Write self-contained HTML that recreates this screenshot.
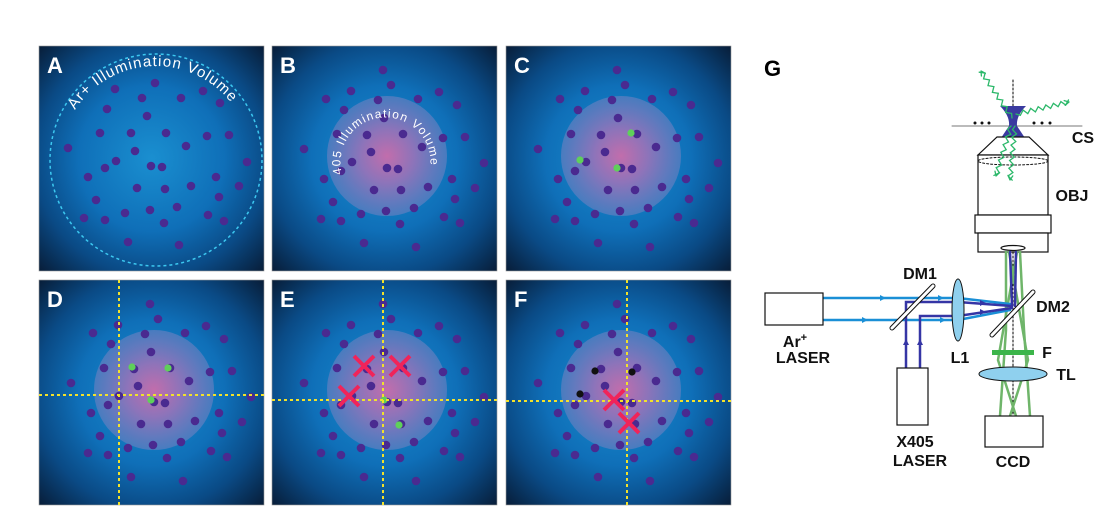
<!DOCTYPE html>
<html><head><meta charset="utf-8"><style>
html,body{margin:0;padding:0;background:#fff;width:1120px;height:520px;overflow:hidden}
svg{display:block}
text{font-family:"Liberation Sans",sans-serif}
</style></head><body>
<svg id="fig" width="1120" height="520" viewBox="0 0 1120 520" xmlns="http://www.w3.org/2000/svg">
<defs>
<radialGradient id="bg" cx="50%" cy="50%" r="72%">
<stop offset="0" stop-color="#1a8fd0"/><stop offset="0.45" stop-color="#0f6fb8"/><stop offset="0.72" stop-color="#0a4a85"/><stop offset="1" stop-color="#071a33"/>
</radialGradient>
<radialGradient id="pink" cx="50%" cy="50%" r="50%">
<stop offset="0" stop-color="#d46aa8"/><stop offset="0.45" stop-color="#9a72b8"/><stop offset="1" stop-color="#5a7ec0" stop-opacity="0.85"/>
</radialGradient>
<path id="arcA" d="M 36 64 A 96 96 0 0 1 196 62"/>
<path id="arcB" d="M 70 128 A 45 45 0 1 1 157 128"/>
</defs>
<g id="panels"></g>
<g id="optics" stroke-linecap="round">
<text x="764" y="76" font-size="22" font-weight="bold">G</text>
<line x1="1013" y1="80" x2="1013" y2="430" stroke="#000" stroke-width="1" stroke-dasharray="2,2"/>
<line x1="952" y1="126" x2="1082" y2="126" stroke="#777" stroke-width="1"/>
<g fill="#111"><circle cx="975" cy="123" r="1.5"/><circle cx="982" cy="123" r="1.5"/><circle cx="989" cy="123" r="1.5"/><circle cx="1034" cy="123" r="1.5"/><circle cx="1042" cy="123" r="1.5"/><circle cx="1050" cy="123" r="1.5"/></g>
<path d="M1000 106 L1026 106 Q1016 116 1017 126 L1025 138 L1001 138 L1009 126 Q1010 116 1000 106 Z" fill="#3a3aa0"/>
<g id="rays" fill="none" stroke="#2cb86a" stroke-width="1.3"></g>
<g fill="#fff" stroke="#111" stroke-width="1.2">
<path d="M997 137 L1029 137 L1048 155 L978 155 Z"/>
<rect x="978" y="155" width="70" height="60"/>
<rect x="975" y="215" width="76" height="18"/>
<rect x="978" y="233" width="70" height="19"/>
<ellipse cx="1013" cy="248" rx="12" ry="2.5"/>
</g>
<ellipse cx="1013" cy="161" rx="35" ry="4" fill="none" stroke="#111" stroke-dasharray="2,2"/>
<g id="rays2" fill="none" stroke="#2cb86a" stroke-width="1.3"></g>
<g stroke="#6fb56a" stroke-width="2.5" fill="none">
<path d="M1006 252 L1006 330 L1000 416"/><path d="M1020 252 L1024 330 L1030 416"/>
<path d="M1009 252 L1028 360 L1010 416"/><path d="M1017 252 L998 360 L1016 416"/>
</g>
<g stroke="#1a8fd6" stroke-width="2.5" fill="none">
<line x1="823" y1="298" x2="958" y2="298"/><line x1="823" y1="320" x2="958" y2="320"/>
<path d="M958 298 L1010 304"/><path d="M958 320 L1010 310"/>
</g>
<g stroke="#3535a5" stroke-width="2.5" fill="none">
<path d="M906 368 L906 302 L958 302 L1012 306"/><path d="M920 368 L920 316 L958 316 L1012 308"/>
<path d="M1012 306 L1010 252"/><path d="M1015 306 L1016 252"/>
</g>
<g fill="#1a8fd6"><path d="M880 295 l6 3 l-6 3z"/><path d="M862 317 l6 3 l-6 3z"/><path d="M938 295 l6 3 l-6 3z"/><path d="M940 317 l6 3 l-6 3z"/></g>
<g fill="#3535a5"><path d="M903 345 l3 -6 l3 6z"/><path d="M917 345 l3 -6 l3 6z"/><path d="M980 300 l6 3 l-6 3z"/><path d="M980 309 l6 3 l-6 3z"/></g>
<line x1="892" y1="328" x2="933" y2="286" stroke="#111" stroke-width="5"/><line x1="892" y1="328" x2="933" y2="286" stroke="#fff" stroke-width="3"/>
<line x1="992" y1="335" x2="1033" y2="292" stroke="#111" stroke-width="5"/><line x1="992" y1="335" x2="1033" y2="292" stroke="#fff" stroke-width="3"/>
<ellipse cx="958" cy="310" rx="6" ry="31" fill="#8fd0ee" stroke="#111" stroke-width="1"/>
<rect x="992" y="350" width="42" height="5" fill="#3cb54a"/>
<ellipse cx="1013" cy="374" rx="34" ry="7" fill="#8fd0ee" stroke="#111" stroke-width="1"/>
<g fill="#fff" stroke="#111" stroke-width="1.2">
<rect x="765" y="293" width="58" height="32"/>
<rect x="897" y="368" width="31" height="57"/>
<rect x="985" y="416" width="58" height="31"/>
</g>
<g font-size="16" font-weight="bold" fill="#111" text-anchor="middle">
<text x="1083" y="143">CS</text>
<text x="1072" y="201">OBJ</text>
<text x="920" y="279">DM1</text>
<text x="1053" y="312">DM2</text>
<text x="795" y="347">Ar<tspan font-size="11" dy="-6">+</tspan></text>
<text x="803" y="363">LASER</text>
<text x="960" y="363">L1</text>
<text x="1047" y="358">F</text>
<text x="1066" y="380">TL</text>
<text x="915" y="447">X405</text>
<text x="920" y="466">LASER</text>
<text x="1013" y="467">CCD</text>
</g>
</g>
</svg>
<script>
const NS='http://www.w3.org/2000/svg';
const dotsA=[[116,37],[76,43],[103,52],[142,52],[164,45],[181,57],[68,63],[108,70],[61,87],[92,87],[127,87],[168,90],[190,89],[29,102],[96,105],[147,100],[77,115],[66,122],[112,120],[123,121],[208,116],[49,131],[177,131],[98,142],[126,143],[152,140],[200,140],[57,154],[180,151],[86,167],[111,164],[138,161],[45,172],[66,174],[169,169],[185,175],[125,177],[89,196],[140,199]];
const dotsB=[[111,24],[119,39],[79,45],[54,53],[106,54],[146,53],[167,46],[185,59],[72,64],[112,72],[65,88],[95,89],[131,88],[171,92],[193,91],[150,101],[32,103],[99,106],[80,116],[212,117],[115,122],[126,123],[69,125],[52,133],[180,133],[102,144],[129,144],[156,141],[203,142],[61,156],[183,153],[114,165],[142,162],[89,168],[49,173],[69,175],[128,178],[172,171],[188,177],[92,197],[144,201]];
const panelLabels=['A','B','C','D','E','F'];
const panelX=[39,272,506,39,272,506];
const panelY=[46,46,46,280,280,280];
const greenDots=[[],[],[[125,87],[74,114],[111,122]],[[93,87],[129,88],[112,120]],[[127,145],[112,120]],[]];
const blackDots=[[],[],[],[],[],[[89,91],[126,92],[74,114]]];
const crosses=[[],[],[],[],[[92,86],[128,86],[77,116]],[[108,120],[123,143]]];
const crossV=[null,null,null,80,111,121];
const crossH=[null,null,null,115,120,121];
const S=225;
const root=document.getElementById('panels');
function el(tag,attrs,parent){const e=document.createElementNS(NS,tag);for(const k in attrs)e.setAttribute(k,attrs[k]);parent.appendChild(e);return e;}
panelLabels.forEach((L,i)=>{
  const g=el('g',{transform:`translate(${panelX[i]},${panelY[i]})`},root);
  
  
  el('rect',{x:0,y:0,width:S,height:S,fill:'url(#bg)',stroke:'#999','stroke-width':0.6},g);
  if(i>0){const c=el('circle',{cx:115,cy:110,r:60,fill:'url(#pink)',opacity:0.9},g);
    
    }
  const dots=i===0?dotsA:dotsB;
  dots.forEach(d=>{const c=el('circle',{cx:d[0],cy:d[1],r:4.3,fill:'#4a2a90'},g);
    
    });
  greenDots[i].forEach(d=>{const c=el('circle',{cx:d[0],cy:d[1],r:3.6,fill:'#5fd05a'},g);
    
    });
  blackDots[i].forEach(d=>{const c=el('circle',{cx:d[0],cy:d[1],r:3.6,fill:'#111'},g);
    
    });
  if(crossV[i]!==null){
    const v=el('line',{x1:crossV[i],y1:0,x2:crossV[i],y2:S,stroke:'#f2e22a','stroke-width':2,'stroke-dasharray':'3,3'},g);
    
    
    const h=el('line',{x1:0,y1:crossH[i],x2:S,y2:crossH[i],stroke:'#f2e22a','stroke-width':2,'stroke-dasharray':'3,3'},g);
    
    
  }
  crosses[i].forEach(d=>{const p=el('path',{d:`M${d[0]-10} ${d[1]-10} L${d[0]+10} ${d[1]+10} M${d[0]+10} ${d[1]-10} L${d[0]-10} ${d[1]+10}`,stroke:'#f0245a','stroke-width':4,fill:'none'},g);
    
    });
  if(i===0){
    const c=el('circle',{cx:117,cy:114,r:106,fill:'none',stroke:'#3cc8f0','stroke-width':1.5,'stroke-dasharray':'3,3'},g);
    
    
    const t=el('text',{'font-size':15,fill:'#fff'},g);
    
    
    const tp=el('textPath',{href:'#arcA',textLength:182,lengthAdjust:'spacing'},t);tp.textContent='Ar+ Illumination Volume';
  }
  if(i===1){
    const t=el('text',{'font-size':12,fill:'#fff'},g);
    
    
    const tp=el('textPath',{href:'#arcB',textLength:155,lengthAdjust:'spacing'},t);tp.textContent='405 Illumination Volume';
  }
  const lt=el('text',{x:8,y:27,'font-size':22,'font-weight':'bold',fill:'#fff'},g);
  lt.textContent=L;
  
  
});
function wavy(x1,y1,x2,y2,parent){
  const dx=x2-x1,dy=y2-y1,len=Math.hypot(dx,dy),n=Math.round(len/4);
  const nx=-dy/len,ny=dx/len;let d=`M${x1} ${y1}`;
  for(let k=1;k<=n;k++){const t=k/n,a=(k%2?2.2:-2.2);d+=` L${(x1+dx*t+nx*a).toFixed(1)} ${(y1+dy*t+ny*a).toFixed(1)}`;}
  const p=el('path',{d:d},parent);
  
  
  const ang=Math.atan2(dy,dx),h=5;
  el('path',{d:`M${x2} ${y2} L${(x2-h*Math.cos(ang-0.5)).toFixed(1)} ${(y2-h*Math.sin(ang-0.5)).toFixed(1)} M${x2} ${y2} L${(x2-h*Math.cos(ang+0.5)).toFixed(1)} ${(y2-h*Math.sin(ang+0.5)).toFixed(1)}`},parent);
}
const rg=document.getElementById('rays'),rg2=document.getElementById('rays2');
wavy(1012,118,981,71,rg);
wavy(1016,114,1069,102,rg);
wavy(1011,126,996,176,rg2);
wavy(1015,126,1010,180,rg2);
</script>
</body></html>
